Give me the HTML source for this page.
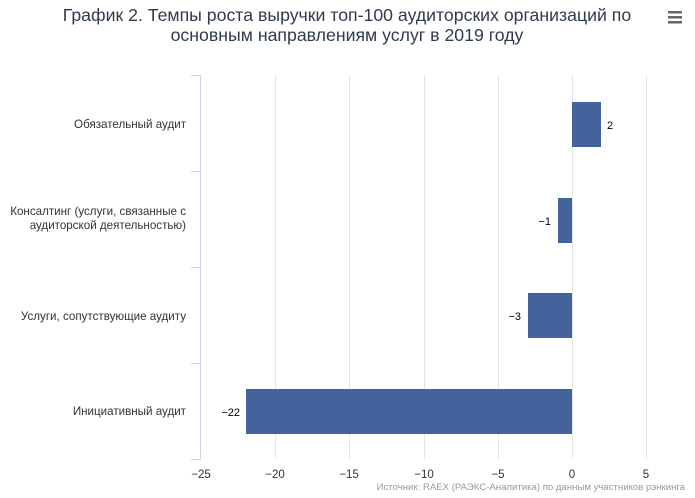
<!DOCTYPE html>
<html><head><meta charset="utf-8"><style>
body{margin:0;background:#fff;}
svg text{font-family:"Liberation Sans","DejaVu Sans",sans-serif;}
</style></head><body>
<svg width="695" height="493" xmlns="http://www.w3.org/2000/svg">
<rect width="695" height="493" fill="#fff"/>
<text x="347" y="21" text-anchor="middle" font-size="17.7" fill="#2f3b4d">График 2. Темпы роста выручки топ-100 аудиторских организаций по</text>
<text x="347" y="41" text-anchor="middle" font-size="17.7" fill="#2f3b4d">основным направлениям услуг в 2019 году</text>
<g fill="#666"><rect x="668" y="11" width="14" height="2.5"/><rect x="668" y="16" width="14" height="2.5"/><rect x="668" y="21" width="14" height="2.5"/></g>
<g stroke="#e6e6e6" stroke-width="1">
<line x1="275.5" y1="75" x2="275.5" y2="459"/>
<line x1="349.5" y1="75" x2="349.5" y2="459"/>
<line x1="424.5" y1="75" x2="424.5" y2="459"/>
<line x1="498.5" y1="75" x2="498.5" y2="459"/>
<line x1="572.5" y1="75" x2="572.5" y2="459"/>
<line x1="646.5" y1="75" x2="646.5" y2="459"/>
</g>
<g stroke="#ccd6eb" stroke-width="1">
<line x1="200.5" y1="75" x2="200.5" y2="459"/>
<line x1="191" y1="75.5" x2="201" y2="75.5"/>
<line x1="191" y1="171.5" x2="201" y2="171.5"/>
<line x1="191" y1="267.5" x2="201" y2="267.5"/>
<line x1="191" y1="363.5" x2="201" y2="363.5"/>
<line x1="191" y1="459.5" x2="201" y2="459.5"/>
</g>
<g fill="#44629c">
<rect x="572" y="102" width="29" height="45"/>
<rect x="558" y="198" width="14" height="45"/>
<rect x="528" y="293" width="44" height="45"/>
<rect x="246" y="389" width="326" height="45"/>
</g>
<g font-size="11" fill="#000">
<text x="607" y="129">2</text>
<text x="551" y="225" text-anchor="end">−1</text>
<text x="521" y="320" text-anchor="end">−3</text>
<text x="240" y="416" text-anchor="end">−22</text>
</g>
<g font-size="11.6" fill="#333" text-anchor="end">
<text x="186" y="128">Обязательный аудит</text>
<text x="186" y="215">Консалтинг (услуги, связанные с</text>
<text x="186" y="229">аудиторской деятельностью)</text>
<text x="186" y="320">Услуги, сопутствующие аудиту</text>
<text x="186" y="415">Инициативный аудит</text>
</g>
<g font-size="11.5" fill="#333" text-anchor="middle">
<text x="201" y="478">−25</text>
<text x="275" y="478">−20</text>
<text x="349" y="478">−15</text>
<text x="424" y="478">−10</text>
<text x="498" y="478">−5</text>
<text x="572" y="478">0</text>
<text x="646" y="478">5</text>
</g>
<text x="685" y="490" text-anchor="end" font-size="9.6" fill="#999">Источник: RAEX (РАЭКС-Аналитика) по данным участников рэнкинга</text>
</svg>
</body></html>
